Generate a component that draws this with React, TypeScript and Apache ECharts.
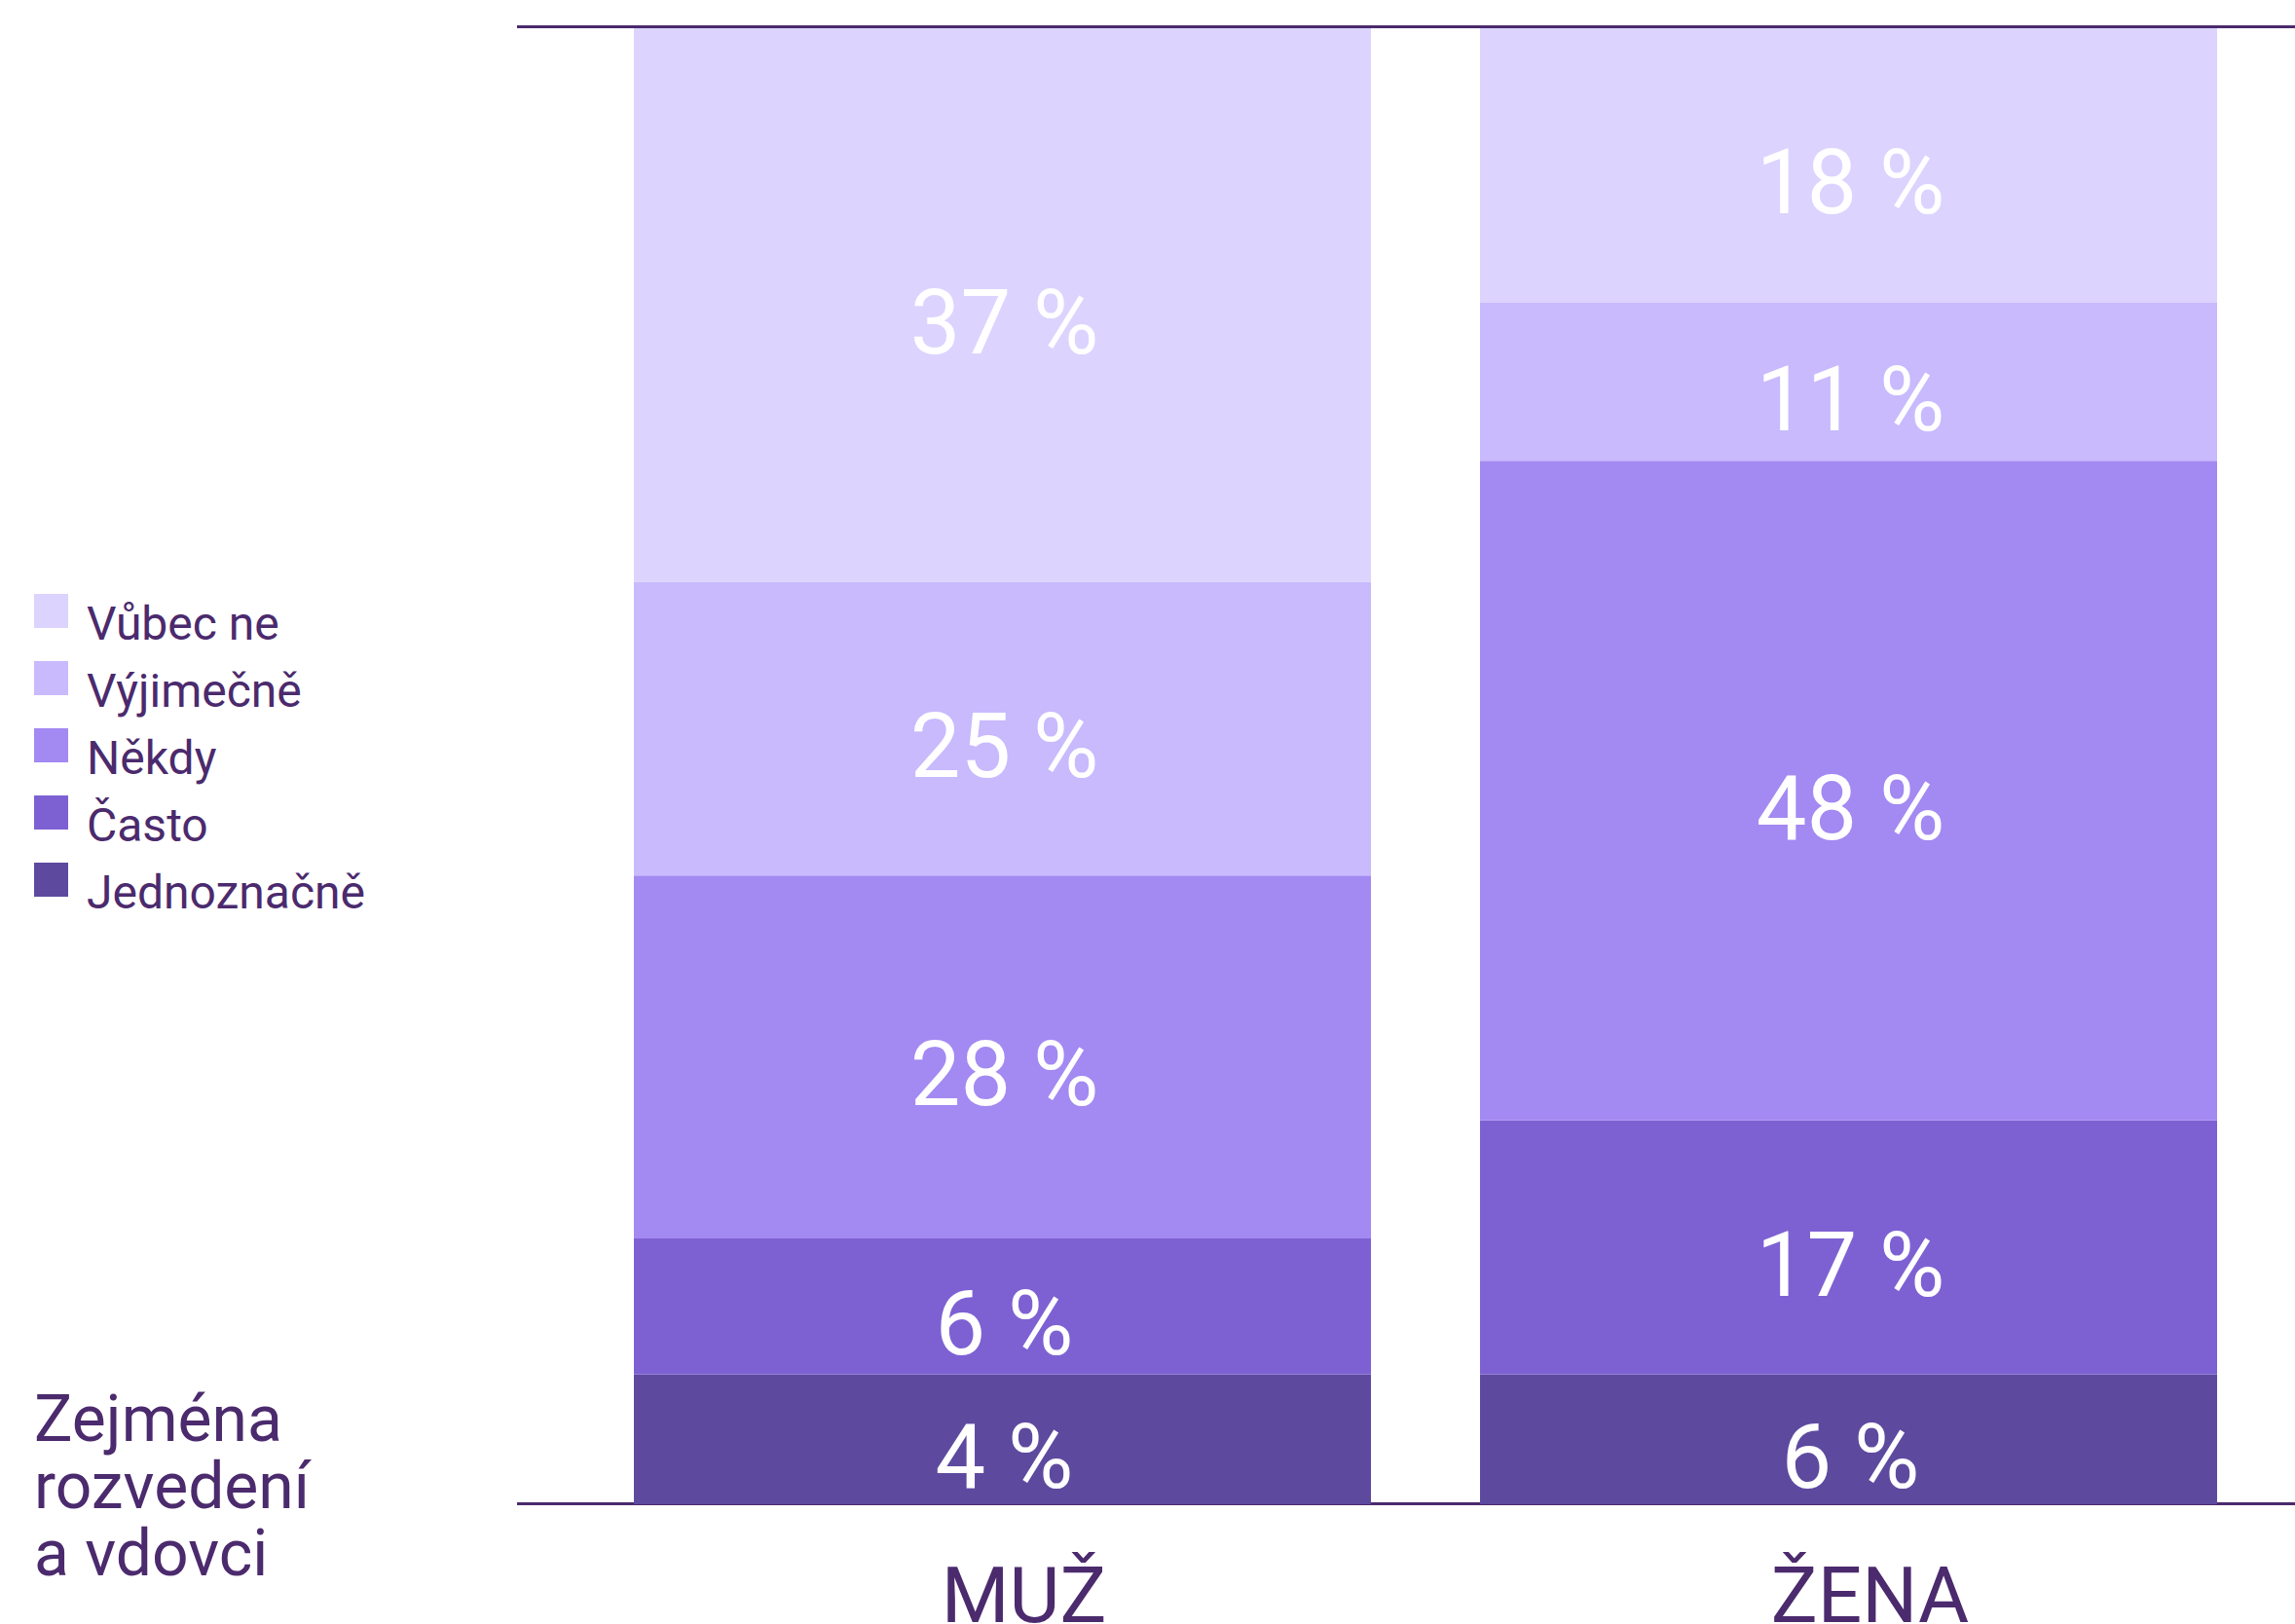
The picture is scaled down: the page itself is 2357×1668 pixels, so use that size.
import React, { useEffect, useRef } from "react";
import * as echarts from "echarts";

const categories = ["MUŽ", "ŽENA"];
const seriesNames = ["Jednoznačně", "Často", "Někdy", "Výjimečně", "Vůbec ne"];
const legendOrder = ["Vůbec ne", "Výjimečně", "Někdy", "Často", "Jednoznačně"];

// drawn segment heights (share of the bar, %)
const jednoznacne = [8.8, 8.8];
const casto = [9.2, 17.2];
const nekdy = [24.6, 44.7];
const vyjimecne = [19.9, 10.7];
const vubecNe = [37.5, 18.6];

// printed percentages
const jednoznacneLabels = [4, 6];
const castoLabels = [6, 17];
const nekdyLabels = [28, 48];
const vyjimecneLabels = [25, 11];
const vubecNeLabels = [37, 18];

const colors = ["#5d4a9f", "#7d61d3", "#a389f2", "#c8bafd", "#dcd4fe"];
const noteLines = ["Zejména", "rozvedení", "a vdovci"];

const TEXT = "#4b2a6d";
const FONT = "Roboto";
// square legend marker sitting in the upper part of a taller item box
const LEGEND_ICON = "path://M0,0H35V35H0Z M0,61L0.001,61Z";

export default function App() {
  const ref = useRef<HTMLDivElement>(null);
  useEffect(() => {
    document.body.style.margin = "0";
    if (!ref.current) return;
    const chart = echarts.init(ref.current, null, { renderer: "svg" });
    const values = [jednoznacne, casto, nekdy, vyjimecne, vubecNe];
    const labels = [jednoznacneLabels, castoLabels, nekdyLabels, vyjimecneLabels, vubecNeLabels];
    const series = seriesNames.map((name, i) => ({
      name,
      type: "bar",
      stack: "total",
      barWidth: 757,
      data: values[i],
      itemStyle: { color: colors[i] },
      label: {
        show: true,
        position: "inside",
        formatter: (p: any) => labels[i][p.dataIndex] + " %",
        color: "#ffffff",
        fontSize: 92,
        fontFamily: FONT,
        offset: [2, 18],
      },
      emphasis: { disabled: true },
    }));
    chart.setOption({
      animation: false,
      color: colors,
      grid: {
        left: 595,
        right: 24,
        top: 29,
        bottom: 123,
        containLabel: false,
        outerBoundsMode: "none",
      },
      xAxis: {
        type: "category",
        data: categories,
        axisLine: { show: false },
        axisTick: { show: false },
        axisLabel: {
          fontSize: 80,
          lineHeight: 56,
          color: TEXT,
          fontFamily: FONT,
          margin: 66,
          padding: [0, 0, 0, 44],
        },
      },
      yAxis: { type: "value", min: 0, max: 100, show: false },
      legend: {
        orient: "vertical",
        left: 35,
        top: 610,
        padding: 0,
        itemWidth: 35,
        itemHeight: 61,
        itemGap: 8,
        icon: LEGEND_ICON,
        selectedMode: false,
        data: legendOrder,
        textStyle: {
          fontSize: 48,
          color: TEXT,
          fontFamily: FONT,
          padding: [0, 0, 0, 14],
        },
      },
      graphic: [
        {
          type: "line",
          z: 0,
          shape: { x1: 531, y1: 27.5, x2: 2357, y2: 27.5 },
          style: { stroke: TEXT, lineWidth: 3 },
        },
        {
          type: "line",
          z: 0,
          shape: { x1: 531, y1: 1544.5, x2: 2357, y2: 1544.5 },
          style: { stroke: TEXT, lineWidth: 3 },
        },
        {
          type: "text",
          left: 35,
          top: 1423,
          style: {
            text: noteLines.join("\n"),
            fontSize: 66,
            lineHeight: 69,
            fill: TEXT,
            fontFamily: FONT,
          },
        },
      ],
      series,
    });
    return () => chart.dispose();
  }, []);
  return <div ref={ref} style={{ width: 2357, height: 1668 }} />;
}
